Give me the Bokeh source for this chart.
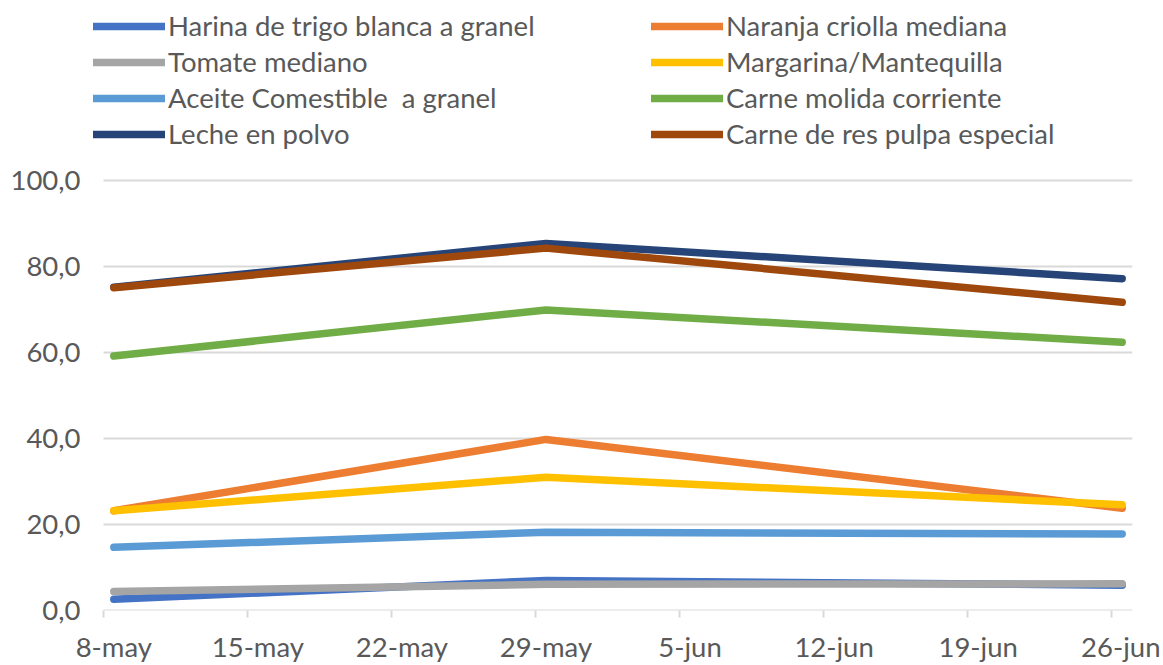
from datetime import date
from bokeh.plotting import figure
from bokeh.models import Range1d, FixedTicker, Legend, LegendItem
from bokeh.embed import file_html
from bokeh.resources import INLINE

# ---- data ----
dates = ["2024-05-08", "2024-05-29", "2024-06-26"]
harina = [2.6, 7.0, 5.9]
naranja = [23.2, 39.8, 23.8]
tomate = [4.4, 6.1, 6.2]
margarina = [23.2, 31.0, 24.6]
aceite = [14.7, 18.2, 17.8]
carne_molida = [59.2, 69.9, 62.4]
leche = [75.2, 85.4, 77.2]
carne_res = [75.1, 84.3, 71.7]

tick_dates = ["2024-05-08", "2024-05-15", "2024-05-22", "2024-05-29",
              "2024-06-05", "2024-06-12", "2024-06-19", "2024-06-26"]
tick_labels = ["8-may", "15-may", "22-may", "29-may", "5-jun", "12-jun", "19-jun", "26-jun"]
y_ticks = [0, 20, 40, 60, 80, 100]
y_labels = ["0,0", "20,0", "40,0", "60,0", "80,0", "100,0"]

series = [
    ("Harina de trigo blanca a granel", harina, "#4472C4"),
    ("Naranja criolla mediana", naranja, "#ED7D31"),
    ("Tomate mediano", tomate, "#A5A5A5"),
    ("Margarina/Mantequilla", margarina, "#FFC000"),
    ("Aceite Comestible  a granel", aceite, "#5B9BD5"),
    ("Carne molida corriente", carne_molida, "#70AD47"),
    ("Leche en polvo", leche, "#264478"),
    ("Carne de res pulpa especial", carne_res, "#9E480E"),
]

start = date.fromisoformat(dates[0])
def day(s):
    return (date.fromisoformat(s) - start).days

# Excel date axis: each date occupies a one-day slot; points sit mid-slot
xs = [day(d) + 0.5 for d in dates]
tick_days = [day(d) for d in tick_dates]
label_pos = [t + 0.5 for t in tick_days]
x_lo, x_hi = tick_days[0], tick_days[-1] + 1

FONT = "Lato"
TXT = "#595959"
GRID = "#D9D9D9"
FS = "27.5px"

# frame extends above the 100 line to host the legend, and a bit left of the axis start
p = figure(width=1160, height=665, output_backend="svg", toolbar_location=None,
           x_range=Range1d(x_lo - 0.73, x_hi), y_range=Range1d(0, 141.9),
           min_border_left=88, min_border_right=28, min_border_top=0,
           min_border_bottom=52)
p.outline_line_color = None
p.background_fill_color = "white"
p.xgrid.grid_line_color = None
p.ygrid.grid_line_color = None

# gridlines spanning the date axis extent only
p.segment(x0=[x_lo] * len(y_ticks), x1=[x_hi] * len(y_ticks), y0=y_ticks, y1=y_ticks,
          line_color=GRID, line_width=2)

renderers = []
for name, vals, col in series:
    r = p.line(xs, vals, line_color=col, line_width=7.5, line_cap="round", line_join="round")
    renderers.append((name, r))

# x axis
p.xaxis.ticker = FixedTicker(ticks=label_pos, minor_ticks=tick_days)
p.xaxis.major_label_overrides = {lp: lab for lp, lab in zip(label_pos, tick_labels)}
p.xaxis.major_tick_line_color = None
p.xaxis.major_tick_out = 7
p.xaxis.major_tick_in = 0
p.xaxis.minor_tick_line_color = GRID
p.xaxis.minor_tick_line_width = 2
p.xaxis.minor_tick_out = 7
p.xaxis.minor_tick_in = 0
p.xaxis.axis_line_color = None
p.xaxis.major_label_text_font = FONT
p.xaxis.major_label_text_font_size = FS
p.xaxis.major_label_text_color = TXT
p.xaxis.major_label_standoff = 12

# y axis
p.yaxis.ticker = FixedTicker(ticks=y_ticks)
p.yaxis.major_label_overrides = {t: l for t, l in zip(y_ticks, y_labels)}
p.yaxis.axis_line_color = None
p.yaxis.major_tick_line_color = None
p.yaxis.minor_tick_line_color = None
p.yaxis.major_tick_out = 0
p.yaxis.major_tick_in = 0
p.yaxis.major_label_text_font = FONT
p.yaxis.major_label_text_font_size = FS
p.yaxis.major_label_text_color = TXT
p.yaxis.major_label_standoff = 8

def make_legend(items, loc):
    return Legend(items=[LegendItem(label=n, renderers=[r]) for n, r in items],
                  location=loc, orientation="vertical",
                  glyph_width=72, glyph_height=32, label_height=32, spacing=3,
                  label_standoff=3, padding=0, margin=0,
                  border_line_color=None, background_fill_alpha=0,
                  label_text_font=FONT, label_text_font_size=FS,
                  label_text_color=TXT)

left_items = [renderers[i] for i in (0, 2, 4, 6)]
right_items = [renderers[i] for i in (1, 3, 5, 7)]
p.add_layout(make_legend(left_items, (5, 460)))
p.add_layout(make_legend(right_items, (563, 460)))

open("out.html", "w").write(file_html(p, INLINE))
